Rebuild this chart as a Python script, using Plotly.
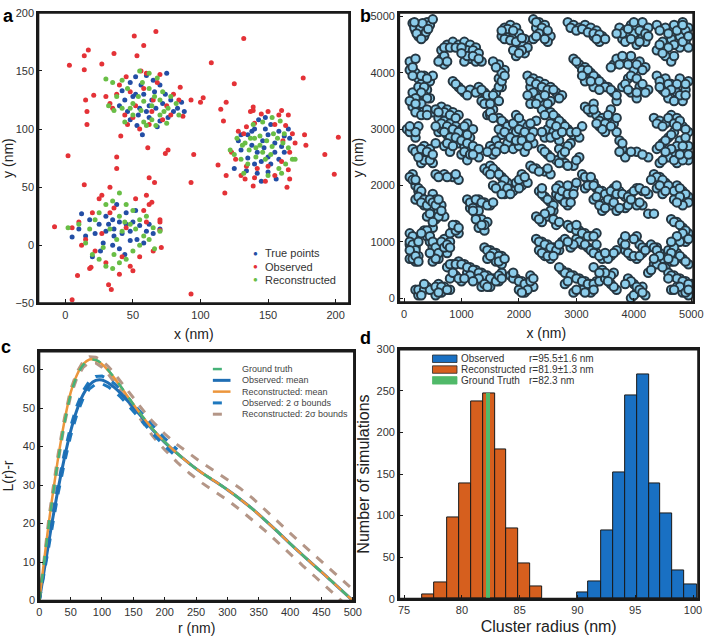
import plotly.graph_objects as go

W, H = 719, 640
FONT = "Liberation Sans, Arial, sans-serif"

# ---------------- Panel a data (nm) ----------------
a_true_points = [
    (48,140),(52,145),(60,146),(65,142),(75,148),(70,138),(66,132),(58,130),(50,128),(44,125),(40,120),(46,115),
    (54,112),(62,110),(70,107),(76,110),(80,115),(83,118),(78,125),(72,122),(62,120),(55,118),(48,108),(53,103),
    (57,95),(68,102),(86,123),(88,115),(42,133),(56,138),(64,125),(74,130),(60,115),(67,118),(52,130),
    (128,90),(135,95),(140,100),(143,108),(148,110),(152,104),(158,98),(162,94),(166,92),(160,85),(155,80),(150,76),
    (145,72),(140,70),(135,75),(130,82),(138,86),(146,90),(150,95),(155,88),(142,80),(147,84),(152,70),(158,74),
    (162,80),(145,55),(150,63),(134,64),(125,66),(142,62),(156,57),(138,98),(165,100),(130,95),(148,100),
    (12,27),(18,22),(25,18),(30,25),(35,22),(40,20),(45,18),(50,20),(55,17),(60,12),(65,10),(70,14),(48,12),(42,10),
    (36,8),(30,12),(22,10),(15,8),(10,14),(5,7),(28,2),(35,0),(40,-3),(48,4),(53,5),(58,2),(38,35),(45,28),(52,30),
    (32,18),(44,-8),(26,-5),(20,-10),(62,18),(36,14),
]
a_observed = [
    (67,184),(51,180),(58,172),(17,168),(14,163),(36,165),(3,155),(14,151),(27,156),(53,163),(108,157),(132,178),
    (176,144),(125,139),(15,125),(16,115),(16,104),(21,129),(2,77),(38,76),(38,66),(61,84),(41,94),(95,78),(74,79),
    (76,82),(85,136),(93,125),(100,123),(102,127),(87,111),(113,69),(118,45),(93,54),(62,58),(66,54),(14,52),(33,50),
    (60,43),(64,37),(-8,16),(9,-26),(32,-34),(34,-38),(5,-47),(93,-42),(19,-19),(71,-2),(70,22),(70,13),(117,107),
    (115,117),(119,123),(177,95),(178,86),(192,78),(199,61),(202,93),(164,50),(166,57),(119,60),(133,57),(139,116),
    (139,119),(160,116),(165,112),(139,51),
    (60,148),(56,150),(70,147),(45,145),(40,138),(38,130),(48,132),(52,120),(65,125),(75,120),(80,130),(78,112),
    (72,108),(62,104),(50,110),(44,112),(35,118),(33,122),(84,125),(68,140),(58,135),(46,104),(55,100),(64,115),(30,128),
    (128,98),(134,102),(140,105),(150,115),(158,112),(163,103),(168,96),(170,88),(166,80),(160,72),(150,68),(142,66),
    (134,68),(126,74),(123,80),(130,60),(140,58),(155,60),(148,55),(165,65),(137,115),(145,113),(155,104),(132,96),(161,90),
    (10,20),(15,5),(20,28),(25,40),(27,43),(33,28),(45,15),(60,20),(65,-5),(55,-10),(50,-22),(48,-18),(40,-25),(30,-15),
    (22,-5),(18,-20),(12,0),(52,40),(70,20),(36,32),(58,30),(42,-10),(27,10),(62,35),(5,15),
]
a_reconstructed = [
    (30,143),(35,140),(42,142),(55,150),(62,148),(68,144),(57,140),(46,135),(38,128),(32,120),(42,118),(50,122),
    (58,124),(66,128),(72,132),(78,128),(82,122),(76,118),(70,112),(64,108),(58,106),(50,112),(44,106),(60,103),
    (67,103),(73,115),(54,128),(62,135),(48,118),(84,112),(36,116),(56,116),(64,120),(70,125),(75,105),
    (125,78),(130,74),(135,70),(141,76),(137,92),(133,88),(144,94),(149,90),(153,85),(157,92),(161,88),(165,84),
    (168,74),(163,70),(158,66),(152,78),(146,80),(141,84),(136,82),(131,86),(127,92),(139,104),(146,106),(153,110),
    (159,107),(162,96),(122,82),(132,62),(150,60),(160,62),(170,74),(144,86),(148,74),(140,92),(154,96),
    (2,15),(10,18),(18,14),(25,28),(30,35),(35,38),(40,45),(45,35),(50,30),(55,22),(60,25),(65,15),(70,12),(62,5),
    (55,0),(50,-5),(45,-12),(40,-15),(35,-20),(30,-18),(25,-12),(20,-8),(28,-2),(38,5),(42,12),(33,14),(48,18),
    (58,8),(40,25),(22,22),(15,2),(66,-3),(52,14),(36,-8),(44,20),
]
a_legend_labels = ["True points", "Observed", "Reconstructed"]

# ---------------- Panel b data (nm) ----------------
b_points = [
    (150,4880),(250,4850),(350,4800),(200,4750),(300,4700),(400,4900),(450,4850),(350,4650),(250,4650),(500,4950),
    (650,4400),(750,4500),(850,4550),(950,4500),(1050,4550),(1150,4500),(1250,4450),(1100,4400),(650,4250),(700,4150),
    (1150,4250),(1250,4200),(1350,4200),(1050,4200),
    (1750,4800),(1850,4850),(1950,4800),(1800,4700),(1900,4650),(2000,4700),(2100,4600),(2000,4450),(2100,4350),
    (1950,4300),(2050,4500),(1700,4650),
    (2250,4950),(2350,4900),(2450,4850),(2300,4800),(2400,4700),(2550,4650),(2500,4550),(2250,4600),
    (2850,4900),(2950,4850),(3050,4800),(3150,4850),(3250,4800),(3350,4750),(3450,4650),(3300,4650),(3400,4550),
    (3750,4800),(3850,4750),(3950,4850),(4050,4800),(4150,4900),(4250,4800),(3900,4650),(4000,4700),(4150,4650),
    (3800,4600),(4050,4500),(4200,4550),
    (4400,4850),(4550,4800),(4700,4850),(4850,4900),(4950,4800),(4800,4650),(4900,4550),(4650,4600),(4500,4550),
    (4400,4400),(4550,4300),(4650,4200),(4800,4450),(4950,4450),
    (100,4200),(200,4250),(100,4050),(200,4000),(250,3900),(350,3950),(300,3800),(400,3700),(350,3600),(450,3550),
    (450,3850),(500,3950),(150,3650),(250,3350),(350,3300),(150,3400),
    (850,3850),(950,3750),(1050,3650),(1150,3700),(1300,3750),(1400,3650),(1350,3500),(1500,3550),(1600,3650),
    (1700,3750),(1550,3350),(1450,3250),(1650,3900),(1750,4050),(1650,4150),(1550,4200),
    (2150,3950),(2250,3900),(2350,3850),(2450,3800),(2550,3750),(2650,3650),(2750,3600),(2200,3750),(2300,3600),
    (2200,3450),(2400,3450),(2550,3500),
    (2950,4250),(3050,4150),(3150,4100),(3250,4000),(3350,3900),(3450,3800),(3550,3750),(3650,3650),(3300,3750),
    (3150,3850),(3700,3500),(3650,4150),
    (3700,4250),(3850,4200),(3950,4300),(4100,4200),(4200,4100),(4000,4050),(3900,3900),(3800,3750),(3950,3650),
    (4100,3750),(4250,3700),(4050,3550),
    (4400,3950),(4550,3900),(4650,3800),(4800,3900),(4950,3850),(4900,3700),(4750,3650),(4600,3550),(4500,3700),(4850,3500),
    (350,3350),(500,3300),(650,3400),(750,3350),(850,3300),(950,3250),(600,3200),(700,3150),(800,3100),(900,3050),
    (1000,3000),(1100,3100),(1200,3000),(600,2950),(750,2900),(850,2800),(950,2750),(1050,2700),(1150,2650),
    (1250,2600),(1300,2500),(1000,2550),(1100,2450),(700,2700),(800,2600),(650,3000),(1150,2850),
    (50,3000),(150,2950),(250,3050),(200,2850),
    (150,2650),(250,2600),(350,2700),(450,2650),(400,2500),(300,2400),(500,2400),(550,2750),
    (1500,3250),(1650,3200),(1750,3100),(1850,3000),(1950,2950),(2050,3100),(2150,3050),(2250,2950),(1700,2900),
    (1600,2800),(1500,2700),(1800,2750),(1900,2650),(2000,2700),(2100,2600),(2250,2750),(1550,2550),(2300,3150),(1950,3250),
    (2400,3350),(2550,3300),(2650,3200),(2750,3100),(2850,3000),(2950,2900),(3050,2850),(2500,3000),(2600,2950),
    (2700,2800),(2450,2850),(3100,3050),
    (3150,3400),(3250,3300),(3350,3250),(3450,3200),(3550,3150),(3650,3100),(3400,3050),(3500,2950),(3300,3450),(3600,3350),
    (4350,3200),(4450,3150),(4550,3100),(4650,3250),(4750,3200),(4850,3050),(4950,2950),(4700,2950),(4600,2850),
    (4500,2750),(4400,2650),(4800,2800),(4950,2700),(4850,2600),(4700,2550),(4550,2500),(4450,2400),(4950,2450),(4750,2400),
    (3750,2800),(3800,2650),(3850,2500),(4050,2600),(4250,2500),(3700,2950),
    (2400,2650),(2500,2550),(2650,2450),(2800,2400),(2950,2350),(3050,2500),(2700,2650),(2900,2750),
    (150,2200),(100,2150),(200,2000),(250,1900),(300,1800),(200,1750),(350,1650),(450,1600),(400,1450),(500,1850),
    (550,1750),(600,1550),(550,1400),(500,1250),(650,1650),(700,1450),
    (550,2200),(700,2200),(850,2150),(950,2100),
    (1100,1750),(1200,1700),(1300,1750),(1400,1700),(1500,1650),(1150,1600),(1250,1500),(1350,1400),(1450,1350),
    (1300,1250),(1400,1200),
    (1400,2300),(1500,2350),(1600,2250),(1700,2150),(1800,2050),(1650,1950),(1550,2000),(1750,1850),(1900,1900),
    (1950,2050),(2050,2000),(2150,2050),(2050,2200),
    (2200,2350),(2300,2300),(2450,2250),(2550,2200),
    (2350,1900),(2450,1800),(2550,1700),(2600,1550),(2500,1450),(2400,1350),(2300,1450),(2650,1850),(2750,1750),
    (2850,1650),(2700,2000),(2800,1900),(2950,1950),(2650,1300),(2900,1800),(3000,2050),
    (3100,2200),(3200,2100),(3300,2050),(3150,1950),
    (3350,1950),(3450,1900),(3550,1850),(3650,1950),(3750,1900),(3850,1800),(3950,1850),(4050,1950),(4150,1900),
    (4250,1850),(3500,1700),(3600,1650),(3700,1550),(3850,1600),(4000,1700),(4150,1650),(3300,1750),(3450,1550),
    (4350,2200),(4450,2150),(4550,2050),(4650,1950),(4750,2000),(4850,1900),(4950,1800),(4700,1750),(4900,1700),
    (4400,1950),(4500,1850),(4250,1500),(4350,1500),
    (100,1150),(150,1050),(100,950),(200,900),(150,800),(100,700),(250,750),(200,650),(350,1200),(400,1100),
    (450,1000),(500,900),(550,800),(600,700),(500,650),(650,900),(700,1050),(750,800),(800,1000),(850,1200),(950,1150),(900,1300),
    (200,150),(300,100),(250,50),(400,200),(500,150),(600,250),(700,200),(650,100),(800,150),(550,50),
    (750,550),(850,600),(950,650),(1050,600),(1150,550),(1250,500),(1350,450),(1450,400),(1550,350),(1650,300),
    (1100,450),(1250,350),(1350,200),(1500,200),(1700,450),(900,400),(800,350),(1000,300),
    (1400,900),(1500,850),(1600,800),(1700,750),(1450,700),(1600,650),(1700,600),
    (1850,400),(1950,350),(2050,300),(2150,250),(2250,200),(2100,100),(2000,150),(2200,400),
    (2300,1050),(2400,1000),(2500,950),(2600,900),(2700,850),(2350,850),(2450,750),(2550,700),(2750,1000),
    (2850,1300),(2950,1250),(3050,1200),(3150,1150),(3250,1100),(3350,1150),(3000,1050),(3100,950),(3200,900),
    (3300,850),(2900,900),(2800,1050),
    (2750,500),(2850,450),(2950,400),(3050,350),(3150,300),(3250,250),(3350,300),(3450,350),(3550,400),(3650,450),
    (3450,500),(3300,550),(2950,100),(3100,150),(3250,100),(3600,250),(3700,150),(2800,250),
    (3350,800),(3450,700),(3600,750),(3700,850),
    (3800,1000),(3850,850),(3950,750),(4050,700),(4150,800),(4100,950),(4250,900),(4050,1100),
    (3900,350),(4000,250),(4050,100),(3950,0),(4150,200),(4200,50),
    (4300,950),(4400,900),(4450,800),(4500,700),(4350,600),(4550,550),(4250,450),
    (4650,1400),(4750,1350),(4850,1250),(4950,1150),(4800,1100),(4900,1000),(4700,950),(4600,850),(4750,800),
    (4850,700),(4950,600),(4650,650),
    (4600,450),(4700,400),(4800,350),(4900,300),(5000,250),(4750,200),(4850,100),(4950,50),(4650,150),
]
b_points_more = [
    (180,4800),(280,4780),(380,4720),(320,4880),(220,4700),(420,4780),(300,4600),(180,4900),
    (700,4450),(800,4450),(900,4450),(1000,4450),(1200,4400),(1300,4350),(700,4300),(600,4200),(750,4200),(1100,4300),
    (1200,4300),(1300,4250),(1000,4350),
    (1800,4780),(1900,4750),(1750,4600),(1850,4580),(1950,4550),(2050,4620),(2150,4450),(2050,4400),(1900,4400),
    (1700,4750),(2000,4350),
    (2300,4900),(2400,4800),(2350,4700),(2500,4750),(2450,4600),(2300,4650),
    (2900,4800),(3000,4750),(3100,4780),(3200,4720),(3300,4700),(3400,4680),(3500,4600),(3350,4600),
    (3800,4700),(3900,4780),(4000,4900),(4100,4750),(4200,4700),(3850,4550),(3950,4600),(4100,4550),(4250,4650),(3700,4700),
    (4450,4750),(4600,4700),(4750,4750),(4900,4750),(4850,4850),(4700,4500),(4600,4450),(4450,4500),(4500,4350),
    (4850,4550),(4950,4650),(4700,4300),
    (150,4100),(150,3950),(300,3950),(250,3750),(350,3750),(300,3650),(400,3550),(400,3900),(200,3550),(300,3450),
    (200,3300),(300,3250),(400,3350),(100,3500),(200,3450),
    (900,3800),(1000,3700),(1100,3600),(1250,3650),(1350,3700),(1450,3600),(1400,3450),(1500,3450),(1550,3600),
    (1650,3750),(1650,3500),(1500,3300),(1700,3850),(1700,4000),(1600,4100),(1750,3950),
    (2200,3850),(2300,3800),(2400,3750),(2500,3700),(2600,3700),(2700,3550),(2250,3650),(2350,3550),(2150,3600),
    (2300,3450),(2500,3450),(2450,3600),
    (3000,4200),(3100,4050),(3200,4050),(3300,3950),(3400,3850),(3500,3750),(3600,3700),(3250,3850),(3400,3700),
    (3700,3600),(3600,4100),(3100,3950),
    (3750,4150),(3900,4150),(4050,4150),(4150,4050),(3950,3950),(4050,3900),(3850,3800),(3900,3700),(4050,3650),
    (4200,3650),(4150,3800),(3800,4300),
    (4450,3850),(4600,3800),(4750,3800),(4900,3800),(4800,3600),(4650,3700),(4550,3650),(4700,3500),(4900,3600),(4450,3750),
    (400,3250),(550,3350),(700,3300),(800,3250),(900,3200),(650,3100),(750,3050),(850,3000),(950,2950),(1050,3050),
    (700,2950),(800,2850),(900,2850),(1000,2800),(1100,2750),(1200,2700),(1300,2650),(1050,2600),(1150,2550),
    (750,2750),(850,2700),(550,3050),(1200,2550),(1100,2900),(600,3300),
    (100,2950),(200,2950),(100,3050),
    (200,2600),(300,2650),(400,2600),(350,2450),(450,2450),(250,2500),(500,2550),
    (1550,3200),(1700,3150),(1800,3050),(1900,3100),(2000,3000),(2100,2950),(2200,3100),(1650,3000),(1750,2950),
    (1550,2650),(1650,2700),(1750,2650),(1850,2850),(1950,2800),(2050,2800),(2150,2700),(1450,2600),(1600,2600),
    (2000,3200),(2200,2850),
    (2450,3250),(2600,3250),(2700,3150),(2800,3050),(2900,2950),(2550,3100),(2650,3050),(2550,2850),(2650,2900),
    (2750,2950),(3000,2950),(2400,2950),
    (3200,3350),(3300,3350),(3400,3150),(3500,3100),(3600,3050),(3450,3000),(3350,3100),(3550,3250),(3700,3200),
    (4400,3100),(4500,3050),(4600,3200),(4700,3100),(4800,3150),(4900,3000),(4750,3050),(4650,2900),(4550,2800),
    (4450,2700),(4750,2700),(4850,2700),(4900,2850),(4650,2650),(4600,2500),(4500,2450),(4850,2450),(4950,2550),
    (4700,2450),(4800,2550),(4550,2600),
    (3800,2750),(3750,2600),(4150,2550),(3950,2600),
    (2450,2600),(2550,2500),(2700,2400),(2850,2350),(3000,2450),(2750,2550),(2850,2700),(2800,2600),
    (150,2100),(200,2100),(250,1950),(300,1900),(250,1800),(350,1750),(300,1700),(400,1650),(450,1500),(450,1750),
    (500,1700),(550,1650),(600,1450),(500,1350),(650,1550),(600,1750),
    (600,2150),(750,2150),(900,2200),
    (1150,1700),(1250,1750),(1350,1700),(1450,1650),(1200,1600),(1300,1550),(1250,1400),(1400,1300),(1350,1300),
    (1200,1550),(1550,1700),
    (1450,2250),(1550,2300),(1650,2200),(1750,2100),(1700,2000),(1600,1950),(1800,1950),(1850,1850),(1700,1850),(1500,2200),
    (2000,2100),(2100,2150),(2000,1950),(2250,2300),(2350,2250),(2500,2300),
    (2400,1850),(2500,1750),(2600,1650),(2550,1550),(2450,1500),(2350,1400),(2700,1800),(2800,1700),(2650,1950),
    (2750,1900),(2850,1850),(2900,1700),(2600,1400),(2700,1350),(2400,1950),(2850,2000),(2950,1850),
    (3150,2150),(3250,2150),(3200,2000),(3300,2000),
    (3400,1900),(3500,1850),(3600,1900),(3700,1850),(3800,1850),(3900,1800),(4000,1900),(4100,1950),(4200,1900),
    (3550,1750),(3650,1700),(3750,1600),(3900,1650),(4050,1650),(3400,1650),(3350,1800),(3500,1600),(3950,1750),
    (4100,1700),(3700,2000),
    (4400,2150),(4500,2100),(4600,2000),(4700,1900),(4800,1950),(4900,1850),(4800,1800),(4950,1700),(4850,1650),
    (4750,1700),(4450,2000),(4550,1900),(4300,2100),
    (150,1100),(100,1000),(150,950),(200,850),(100,850),(150,700),(200,750),(250,650),(400,1200),(450,1100),
    (500,1000),(550,900),(600,800),(550,700),(450,800),(650,1000),(700,900),(750,950),(800,900),(800,1150),
    (900,1200),(850,1300),(950,1250),(300,1150),(250,1000),
    (250,150),(350,150),(300,50),(450,150),(550,200),(650,200),(750,150),(600,100),(350,250),
    (800,600),(900,600),(1000,600),(1100,550),(1200,500),(1300,450),(1400,400),(1500,350),(1600,300),(1150,400),
    (1300,350),(1400,250),(1450,200),(1650,400),(850,450),(950,350),(1050,350),(1200,300),(1700,350),
    (1450,850),(1550,800),(1650,750),(1500,750),(1650,650),(1750,700),
    (1900,350),(2000,300),(2100,250),(2200,300),(2150,150),(2050,100),(1900,450),(2250,350),
    (2350,1000),(2450,950),(2550,900),(2650,850),(2400,800),(2500,750),(2600,750),(2700,950),
    (2900,1250),(3000,1200),(3100,1150),(3200,1100),(3300,1100),(3050,1000),(3150,950),(3250,850),(2950,950),
    (2850,1000),(3000,1300),(3350,950),
    (2800,450),(2900,400),(3000,350),(3100,300),(3200,250),(3300,250),(3400,300),(3500,350),(3600,400),(3500,450),
    (3400,450),(3000,150),(3150,100),(3300,150),(3650,200),(2850,300),(3550,300),(2700,550),
    (3300,800),(3400,750),(3550,700),(3650,800),(3500,800),
    (3850,950),(3900,800),(4000,750),(4100,750),(4150,900),(4200,850),(4000,1050),(3850,1100),
    (3950,300),(4050,200),(4000,50),(4100,150),(4150,100),(3850,250),
    (4350,900),(4400,850),(4450,750),(4400,600),(4500,550),(4300,500),(4350,700),
    (4700,1350),(4800,1300),(4900,1200),(4850,1150),(4950,1050),(4800,1000),(4700,900),(4650,800),(4800,750),
    (4900,650),(4700,650),(4600,700),(4750,1100),(4650,1000),
    (4650,400),(4750,350),(4850,300),(4950,250),(4800,200),(4900,100),(4700,150),(4950,150),(4600,350),
]

# ---------------- Panel c data ----------------
c_r = [0,5,10,15,20,25,30,40,50,60,70,80,90,100,110,120,130,140,150,160,170,180,190,200,
       220,240,260,280,300,320,340,360,380,400,420,440,460,480,500]
c_ground_truth = [0,6.5,13,19.5,25.5,31,36.5,46,53.5,58.3,61.2,62.5,62.5,61.5,59.8,57.8,55.6,53.3,51,48.8,46.7,44.7,42.9,41.2,
                  38.2,35.5,33.1,31,28.8,26.4,23.8,20.9,17.9,14.8,11.8,8.9,6,3,0]
c_recon_mean = [0,6.8,13.5,20,26,31.5,37,46.5,54,58.6,61.4,62.6,62.4,61.4,59.7,57.7,55.5,53.2,51,48.8,46.7,44.7,42.9,41.2,
                38.2,35.5,33.1,31,28.8,26.4,23.8,20.9,17.9,14.8,11.8,8.9,6,3,0]
c_obs_mean = [0,5,10,15,20,24.5,29,37,44,49.5,53.5,56,57.2,57.3,56.5,55.3,53.8,52,50.2,48.3,46.4,44.5,42.8,41.1,
              38.2,35.5,33.1,31,28.8,26.4,23.8,20.9,17.9,14.8,11.8,8.9,6,3,0]
c_obs_r = [0,10,20,30,40,50,60,70,80,90,100,110,120,130,140,150,160,170,180,190,200,220]
c_obs_upper = [0,10.8,21,30.2,38.3,45.2,50.6,54.5,57,58.2,58.3,57.5,56.3,54.8,53,51.2,49.3,47.4,45.5,43.8,42.1,39.2]
c_obs_lower = [0,9.2,19,27.8,35.7,42.8,48.4,52.5,55,56.2,56.3,55.5,54.3,52.8,51,49.2,47.3,45.4,43.5,41.8,40.1,37.2]
c_rec_upper = [0,7.5,14.5,21,27,32.5,38,47.3,54.8,59.3,62.1,63.3,63.2,62.3,60.8,58.9,56.8,54.6,52.5,50.4,48.5,46.6,44.9,43.3,
               40.5,38,35.7,33.6,31.5,29.2,26.6,23.7,20.6,17.5,14.5,11.6,8.7,5.8,2.9]
c_rec_lower = [0,6,12.5,19,25,30.5,36,45.7,53.2,57.8,60.6,61.8,61.7,60.6,58.8,56.6,54.3,51.9,49.5,47.2,45,42.9,41,39.2,
               35.9,33,30.5,28.4,26.1,23.6,21,18.2,15.2,12.1,9.1,6.2,3.3,0.3,-2.7]
c_legend_labels = ["Ground truth", "Observed: mean", "Reconstructed: mean", "Observed: 2 σ bounds", "Reconstructed: 2σ bounds"]

# ---------------- Panel d data ----------------
d_recon_edges = [76.53,77.64,78.71,79.76,80.78,81.83,82.88,83.87,84.86,85.94,86.96]
d_recon_counts = [5,20,98,139,238,247,180,84,43,15]
d_obs_edges = [89.97,90.96,92.03,93.09,94.1,95.15,96.2,97.19,98.21,99.26,100.4]
d_obs_counts = [8,21,82,152,245,270,139,103,34,17]
d_truth_r = 82.27
d_truth_count = 247
d_legend_labels = ["Observed", "Reconstructed", "Ground Truth"]
d_legend_stats = ["r=95.5±1.6 nm", "r=81.9±1.3 nm", "r=82.3 nm"]

# ---------------- colours ----------------
A_BLUE, A_RED, A_GREEN = "rgb(35,78,165)", "rgb(228,50,55)", "rgb(105,190,70)"
C_BLUE, C_ORANGE, C_GREEN = "rgb(31,110,180)", "rgb(236,150,60)", "rgb(70,178,120)"
C_OBS_B, C_REC_B = "rgb(30,120,190)", "rgb(180,150,135)"
D_BLUE, D_ORANGE, D_GREEN = "rgb(25,112,195)", "rgb(214,95,30)", "rgb(80,185,105)"
FRAME = "#1a1a1a"


def px(x):
    return x / W


def py(y):
    return 1 - y / H


fig = go.Figure()

# Panel a
for pts, col in [(a_true_points, A_BLUE), (a_observed, A_RED), (a_reconstructed, A_GREEN)]:
    xs, ys = zip(*pts)
    fig.add_trace(go.Scatter(x=xs, y=ys, mode="markers", xaxis="x", yaxis="y",
                             marker=dict(size=5, color=col, line=dict(width=0)), showlegend=False))

# Panel b
bx, by = zip(*(b_points + b_points_more))
fig.add_trace(go.Scatter(x=bx, y=by, mode="markers", xaxis="x2", yaxis="y2",
                         marker=dict(size=8.5, color="rgb(140,205,235)", line=dict(width=2, color="rgb(38,55,66)")),
                         showlegend=False))

# Panel c
fig.add_trace(go.Scatter(x=c_r, y=c_rec_upper, mode="lines", xaxis="x3", yaxis="y3",
                         line=dict(color=C_REC_B, width=3, dash="dash"), showlegend=False))
fig.add_trace(go.Scatter(x=c_r, y=c_rec_lower, mode="lines", xaxis="x3", yaxis="y3",
                         line=dict(color=C_REC_B, width=3, dash="dash"), showlegend=False))
fig.add_trace(go.Scatter(x=c_obs_r, y=c_obs_upper, mode="lines", xaxis="x3", yaxis="y3",
                         line=dict(color=C_OBS_B, width=3, dash="dash"), showlegend=False))
fig.add_trace(go.Scatter(x=c_obs_r, y=c_obs_lower, mode="lines", xaxis="x3", yaxis="y3",
                         line=dict(color=C_OBS_B, width=3, dash="dash"), showlegend=False))
fig.add_trace(go.Scatter(x=c_r, y=c_obs_mean, mode="lines", xaxis="x3", yaxis="y3", line_shape="spline",
                         line=dict(color=C_BLUE, width=3), showlegend=False))
fig.add_trace(go.Scatter(x=c_r, y=c_recon_mean, mode="lines", xaxis="x3", yaxis="y3", line_shape="spline",
                         line=dict(color=C_ORANGE, width=2.5), showlegend=False))
fig.add_trace(go.Scatter(x=c_r, y=c_ground_truth, mode="lines", xaxis="x3", yaxis="y3", line_shape="spline",
                         line=dict(color=C_GREEN, width=2.5, dash="dash"), showlegend=False))


# Panel d
def centers(edges):
    return [(edges[i] + edges[i + 1]) / 2 for i in range(len(edges) - 1)]


def widths(edges):
    return [edges[i + 1] - edges[i] for i in range(len(edges) - 1)]


fig.add_trace(go.Bar(x=centers(d_obs_edges), y=d_obs_counts, width=widths(d_obs_edges), xaxis="x4", yaxis="y4",
                     marker=dict(color=D_BLUE, line=dict(color="rgb(25,25,25)", width=1)), showlegend=False))
fig.add_trace(go.Bar(x=centers(d_recon_edges), y=d_recon_counts, width=widths(d_recon_edges), xaxis="x4", yaxis="y4",
                     marker=dict(color=D_ORANGE, line=dict(color="rgb(25,25,25)", width=1)), showlegend=False))
fig.add_trace(go.Bar(x=[d_truth_r], y=[d_truth_count], width=[0.42], xaxis="x4", yaxis="y4",
                     marker=dict(color=D_GREEN, line=dict(width=0)), showlegend=False))

tickfont = dict(family=FONT, size=11, color="#333")
titlefont = dict(family=FONT, size=14, color="#222")


def ax(domain, rng, tickvals, anchor, title, tfont=None, standoff=4):
    return dict(domain=domain, range=rng, showgrid=False, zeroline=False, showline=True, mirror=True,
                linecolor=FRAME, linewidth=2, ticks="inside", ticklen=4, tickcolor=FRAME,
                tickfont=tickfont, anchor=anchor, tickvals=tickvals,
                title=dict(text=title, font=tfont or titlefont, standoff=standoff))


bigfont = dict(family=FONT, size=16, color="#222")
fig.update_layout(
    width=W, height=H, margin=dict(l=0, r=0, t=0, b=0), plot_bgcolor="white", paper_bgcolor="white",
    barmode="overlay", bargap=0, font=dict(family=FONT),
    xaxis=ax([px(35), px(352)], [-20, 210], [0, 50, 100, 150, 200], "y", "x (nm)", standoff=10),
    yaxis=ax([py(303), py(7)], [-50, 200], [-50, 0, 50, 100, 150, 200], "x", "y (nm)", standoff=6),
    xaxis2=ax([px(403), px(703)], [-85, 5035], [0, 1000, 2000, 3000, 4000, 5000], "y2", "x (nm)", standoff=10),
    yaxis2=ax([py(302), py(7)], [-75, 5065], [0, 1000, 2000, 3000, 4000, 5000], "x2", "y (nm)", standoff=4),
    xaxis3=ax([px(36), px(357)], [0, 502], list(range(0, 501, 50)), "y3", "r (nm)", standoff=6),
    yaxis3=ax([py(606), py(352)], [0, 64.7], [0, 10, 20, 30, 40, 50, 60], "x3", "L(r)-r", standoff=6),
    xaxis4=ax([px(403), px(708)], [74.57, 100.45], [75, 80, 85, 90, 95, 100], "y4", "Cluster radius (nm)",
              tfont=bigfont, standoff=6),
    yaxis4=ax([py(604), py(350)], [0, 300], [0, 50, 100, 150, 200, 250, 300], "x4", "Number of simulations",
              tfont=bigfont, standoff=3),
)

ann = []
shapes = []

# frames around each panel
for xa, ya in [("x", "y"), ("x2", "y2"), ("x3", "y3"), ("x4", "y4")]:
    shapes.append(dict(type="rect", xref=f"{xa} domain", yref=f"{ya} domain", x0=0, x1=1, y0=0, y1=1,
                       line=dict(color=FRAME, width=2), fillcolor="rgba(0,0,0,0)", layer="above"))

# panel letters
for letter, x, y in [("a", 5, 10), ("b", 369, 10), ("c", 2, 348), ("d", 369, 338)]:
    ann.append(dict(x=px(x), y=py(y), xref="paper", yref="paper", text=f"<b>{letter}</b>", showarrow=False,
                    font=dict(family=FONT, size=18, color="#000"), xanchor="center", yanchor="middle"))

# legend a
for i, (lab, col) in enumerate(zip(a_legend_labels, [A_BLUE, A_RED, A_GREEN])):
    yy = 252 + i * 13.5
    ann.append(dict(x=px(257), y=py(yy), xref="paper", yref="paper", text="●", showarrow=False,
                    font=dict(size=8, color=col), xanchor="center", yanchor="middle"))
    ann.append(dict(x=px(264), y=py(yy), xref="paper", yref="paper", text=lab, showarrow=False,
                    font=dict(family=FONT, size=11, color="#333"), xanchor="left", yanchor="middle"))

# legend c
c_styles = [(C_GREEN, "dash", 2.5), (C_BLUE, "solid", 3), (C_ORANGE, "solid", 2.5), (C_OBS_B, "dash", 3), (C_REC_B, "dash", 3)]
for i, (lab, (col, dash, wd)) in enumerate(zip(c_legend_labels, c_styles)):
    yy = 370 + i * 11.5
    shapes.append(dict(type="line", xref="paper", yref="paper", x0=px(213), x1=px(231), y0=py(yy), y1=py(yy),
                       line=dict(color=col, width=wd, dash=dash)))
    ann.append(dict(x=px(241), y=py(yy), xref="paper", yref="paper", text=lab, showarrow=False,
                    font=dict(family=FONT, size=9, color="#444"), xanchor="left", yanchor="middle"))

# legend d
for i, (lab, st, col) in enumerate(zip(d_legend_labels, d_legend_stats, [D_BLUE, D_ORANGE, D_GREEN])):
    yy = 359.5 + i * 11
    shapes.append(dict(type="rect", xref="paper", yref="paper", x0=px(437), x1=px(462), y0=py(yy + 3.8), y1=py(yy - 3.8),
                       fillcolor=col, line=dict(color="rgb(40,40,40)" if i < 2 else col, width=0.8)))
    ann.append(dict(x=px(464), y=py(yy), xref="paper", yref="paper", text=lab, showarrow=False,
                    font=dict(family=FONT, size=10, color="#333"), xanchor="left", yanchor="middle"))
    ann.append(dict(x=px(533), y=py(yy), xref="paper", yref="paper", text=st, showarrow=False,
                    font=dict(family=FONT, size=10, color="#333"), xanchor="left", yanchor="middle"))

fig.update_layout(annotations=ann, shapes=shapes)
fig.write_html("out.html")
